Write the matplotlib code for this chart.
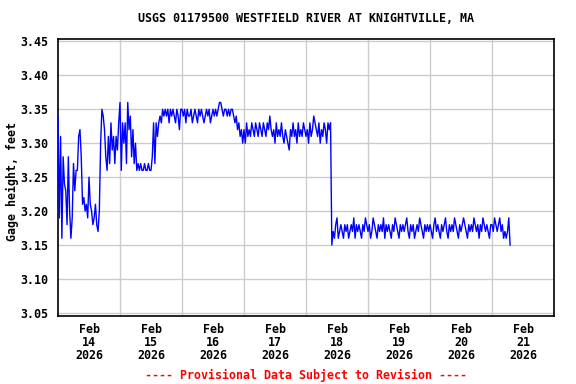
import matplotlib
matplotlib.use("Agg")
import matplotlib.pyplot as plt
import numpy as np
import pandas as pd

title = "USGS 01179500 WESTFIELD RIVER AT KNIGHTVILLE, MA"
ylabel = "Gage height, feet"
footer = "---- Provisional Data Subject to Revision ----"
start = "2026-02-14 00:00"
step = "30min"

# gage height in hundredths of a foot, 30-minute readings, one list per day
feb14 = [334, 319, 331, 316, 328, 324, 323, 318, 328, 320,
         316, 319, 327, 323, 326, 326, 331, 332, 328, 321,
         322, 320, 321, 319, 325, 321, 320, 318, 319, 321,
         318, 317, 320, 330, 335, 334, 332, 328, 326, 331,
         327, 333, 329, 331, 327, 331, 329, 333]
feb15 = [336, 326, 333, 330, 333, 327, 336, 332, 334, 328,
         332, 327, 330, 326, 327, 326, 327, 326, 326, 327,
         326, 326, 327, 326, 326, 328, 333, 327, 333, 331,
         333, 334, 333, 335, 334, 335, 334, 335, 333, 335,
         334, 335, 334, 333, 335, 334, 332, 335]
feb16 = [335, 334, 335, 333, 335, 334, 334, 335, 333, 334,
         335, 334, 333, 335, 334, 335, 334, 333, 334, 335,
         334, 335, 333, 334, 335, 334, 335, 334, 335, 336,
         336, 335, 334, 335, 335, 334, 335, 334, 335, 335,
         334, 333, 334, 332, 333, 331, 332, 330]
feb17 = [332, 330, 333, 331, 332, 331, 333, 332, 331, 333,
         332, 331, 333, 332, 331, 333, 332, 331, 333, 332,
         334, 332, 331, 332, 330, 333, 331, 332, 331, 333,
         331, 330, 332, 331, 330, 329, 332, 331, 333, 331,
         332, 330, 333, 331, 332, 331, 333, 332]
feb18 = [331, 332, 330, 333, 331, 332, 334, 333, 332, 331,
         333, 330, 332, 331, 333, 332, 330, 333, 332, 333,
         315, 317, 316, 318, 319, 316, 317, 318, 317, 316,
         318, 317, 318, 316, 317, 318, 317, 319, 316, 318,
         317, 318, 317, 316, 318, 317, 319, 318]
feb19 = [317, 318, 316, 317, 319, 318, 317, 316, 318, 317,
         318, 317, 319, 316, 318, 317, 318, 317, 316, 318,
         317, 319, 318, 317, 316, 318, 317, 318, 317, 318,
         319, 317, 316, 318, 317, 318, 316, 317, 318, 317,
         319, 318, 317, 316, 318, 317, 318, 317]
feb20 = [318, 317, 316, 318, 319, 317, 318, 317, 316, 318,
         317, 318, 319, 317, 316, 318, 317, 318, 317, 319,
         318, 317, 316, 318, 317, 318, 319, 318, 317, 316,
         318, 317, 318, 317, 319, 318, 317, 318, 316, 318,
         317, 319, 318, 317, 318, 317, 316, 318]
feb21 = [318, 317, 319, 318, 317, 318, 319, 317, 318, 316,
         317, 316, 317, 319, 315]

day_labels = ["Feb\n14\n2026", "Feb\n15\n2026", "Feb\n16\n2026", "Feb\n17\n2026",
              "Feb\n18\n2026", "Feb\n19\n2026", "Feb\n20\n2026", "Feb\n21\n2026"]
y_ticks = [3.05, 3.10, 3.15, 3.20, 3.25, 3.30, 3.35, 3.40, 3.45]

vals = np.array(feb14 + feb15 + feb16 + feb17 + feb18 + feb19 + feb20 + feb21) / 100.0
times = pd.date_range(start, periods=len(vals), freq=step)

font = {"family": "DejaVu Sans Mono", "weight": "bold", "size": 8.4}

fig = plt.figure(figsize=(5.76, 3.84), dpi=100)
ax = fig.add_axes([58 / 576, 1 - 316 / 384, 496 / 576, 277 / 384])

ax.plot(times, vals, color="#0000ff", linewidth=1.0, zorder=3)

day0 = pd.Timestamp("2026-02-14")
ax.set_xlim(day0, day0 + pd.Timedelta(days=8))
ax.set_ylim(3.0455, 3.4535)

major = [day0 + pd.Timedelta(days=d) for d in range(1, 8)]
minor = [day0 + pd.Timedelta(hours=12 + 24 * d) for d in range(8)]
ax.set_xticks(major)
ax.set_xticklabels([""] * len(major))
ax.set_xticks(minor, minor=True)
ax.set_xticklabels(day_labels, minor=True, fontdict=font, linespacing=1.0)
ax.tick_params(axis="x", which="both", length=0, pad=5)

ax.set_yticks(y_ticks)
ax.set_yticklabels([f"{v:.2f}" for v in y_ticks], fontdict=font)
ax.tick_params(axis="y", length=0, pad=7)

ax.grid(True, which="major", color="#cccccc", linewidth=1.0, zorder=0)
for s in ax.spines.values():
    s.set_linewidth(1.2)
    s.set_color("black")

fig.text(12 / 576, 1 - 182 / 384, ylabel, ha="center", va="center", rotation=90, **font)
fig.text(305.5 / 576, 1 - 19 / 384, title, ha="center", va="center", **font)
fig.text(306 / 576, 1 - 375 / 384, footer, ha="center", va="center", color="#ff0000", **font)

fig.savefig("out.png", dpi=100)
